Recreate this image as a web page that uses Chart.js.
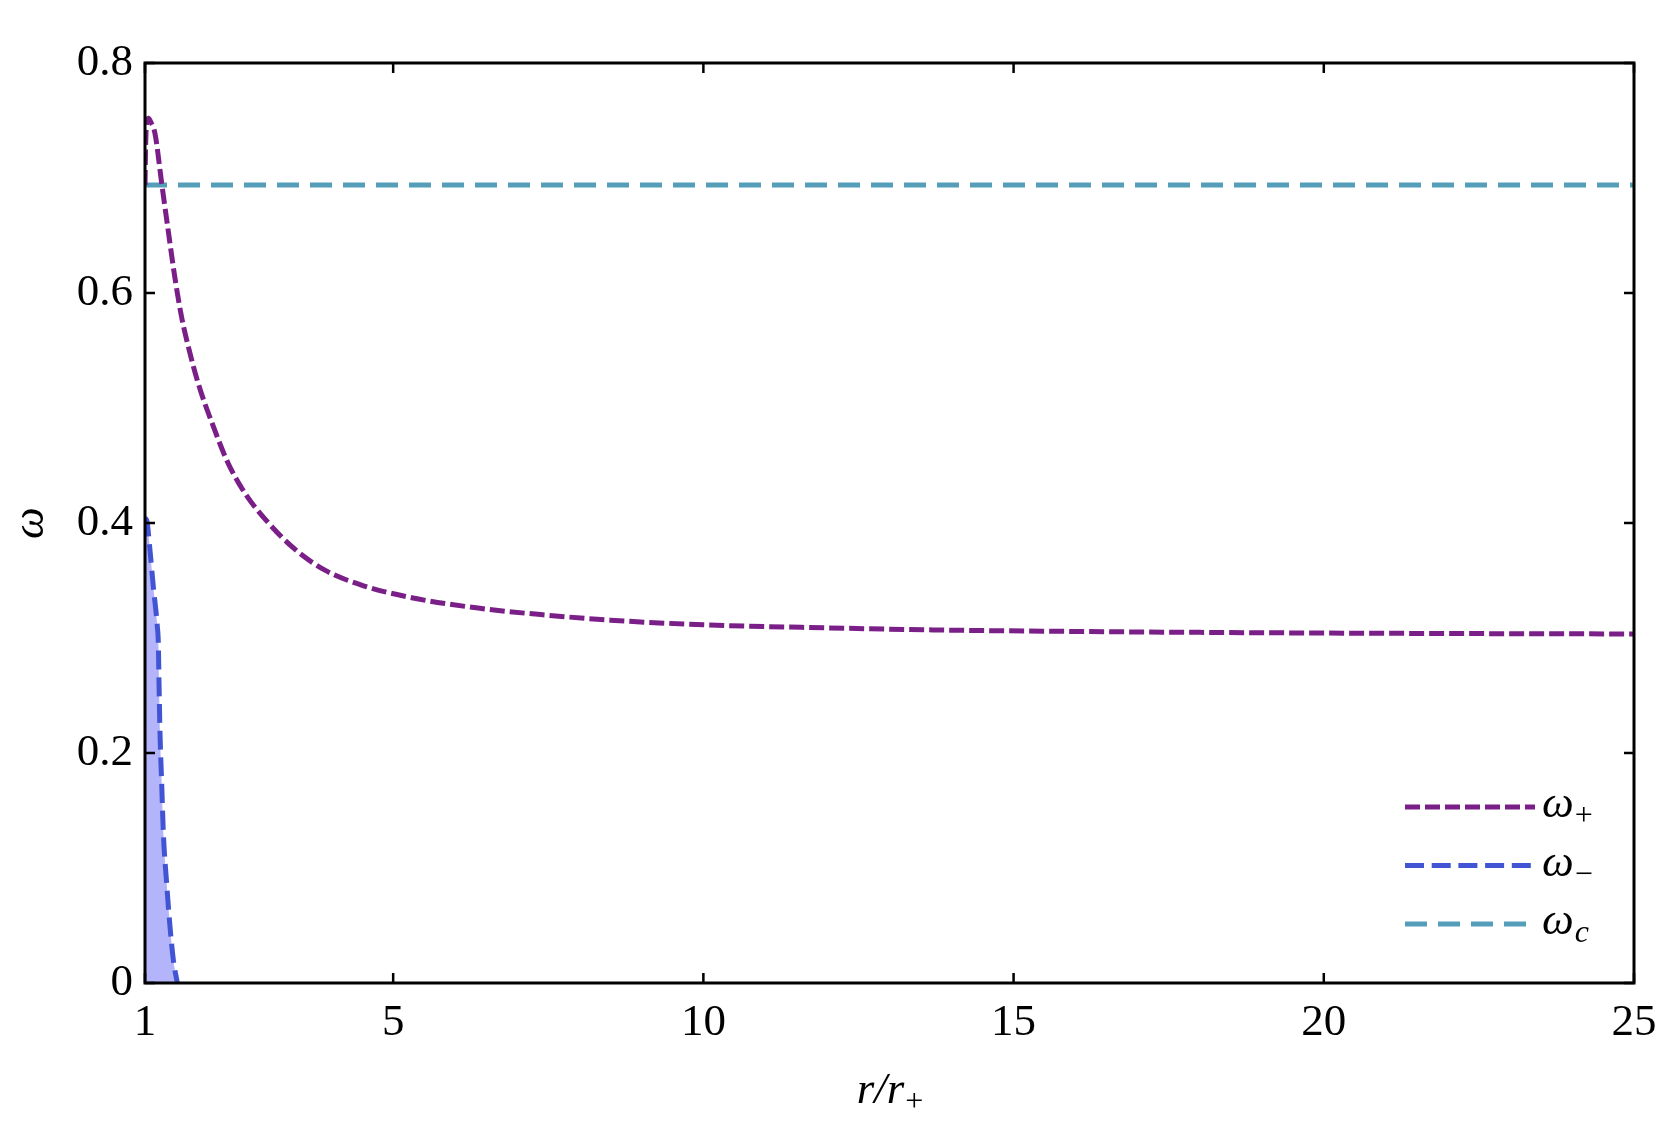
<!DOCTYPE html>
<html><head><meta charset="utf-8">
<script src="https://cdn.jsdelivr.net/npm/chart.js@4/dist/chart.umd.min.js"></script>
<style>html,body{margin:0;padding:0;background:#fff}#wrap{width:1661px;height:1127px;position:relative}</style>
</head><body><div id="wrap"><canvas id="c" width="1661" height="1127"></canvas></div>
<script>
// omega_+ curve
const rPlus = [1, 1.01, 1.03, 1.055, 1.09, 1.16, 1.27, 1.38, 1.48, 1.59, 1.70, 1.86, 2.08, 2.34, 2.61, 2.99, 3.42, 3.90, 4.49, 5.30, 6.37, 7.45, 8.5, 10, 12, 14, 16, 18, 20, 22, 25];
const wPlus = [0.694, 0.728, 0.749, 0.752, 0.749, 0.739, 0.695, 0.652, 0.614, 0.579, 0.553, 0.521, 0.487, 0.452, 0.426, 0.400, 0.377, 0.359, 0.346, 0.335, 0.326, 0.320, 0.3155, 0.3115, 0.3088, 0.3068, 0.3057, 0.3049, 0.3043, 0.3039, 0.3035];
// omega_- curve
const rMinus = [1, 1.027, 1.08, 1.134, 1.199, 1.215, 1.226, 1.242, 1.269, 1.296, 1.349, 1.403, 1.457, 1.521];
const wMinus = [0.404, 0.4026, 0.3765, 0.3446, 0.3098, 0.2954, 0.2606, 0.2171, 0.1736, 0.1302, 0.0867, 0.049, 0.020, 0];
// omega_c
const rC = [1, 25];
const wC = [0.694, 0.694];

const xTicks = [1, 5, 10, 15, 20, 25];
const yTicks = [0, 0.2, 0.4, 0.6, 0.8];
const legendSubs = ['+', '\u2212', 'c'];

const colPlus = 'rgb(122,30,136)';
const colMinus = 'rgb(64,84,212)';
const colC = 'rgb(84,158,186)';
const fillMinus = 'rgb(180,180,250)';
const SERIF = '"Liberation Serif", "Times New Roman", serif';
const FS = 45;

const pts = (xs, ys) => xs.map((x, i) => ({x, y: ys[i]}));

const framePlugin = {
  id: 'frame',
  afterDraw(chart) {
    const {ctx, chartArea: a, scales} = chart;
    ctx.save();
    ctx.strokeStyle = '#000';
    ctx.lineWidth = 3;
    ctx.strokeRect(a.left, a.top, a.right - a.left, a.bottom - a.top);
    const tl = 10;
    ctx.lineWidth = 2.5;
    ctx.beginPath();
    xTicks.forEach(v => {
      const px = scales.x.getPixelForValue(v);
      ctx.moveTo(px, a.bottom); ctx.lineTo(px, a.bottom - tl);
      ctx.moveTo(px, a.top); ctx.lineTo(px, a.top + tl);
    });
    yTicks.forEach(v => {
      const py = scales.y.getPixelForValue(v);
      ctx.moveTo(a.left, py); ctx.lineTo(a.left + tl, py);
      ctx.moveTo(a.right, py); ctx.lineTo(a.right - tl, py);
    });
    ctx.stroke();

    // axis titles
    ctx.fillStyle = '#000';
    ctx.textBaseline = 'alphabetic';
    const cx = (a.left + a.right) / 2;
    const mainF = 'italic 45px ' + SERIF;
    const subF = '32px ' + SERIF;
    ctx.font = mainF; const w1 = ctx.measureText('r/r').width;
    ctx.font = subF; const w2 = ctx.measureText('+').width;
    const x0 = cx - (w1 + w2) / 2;
    const by = a.bottom + 120;
    ctx.font = mainF; ctx.textAlign = 'left'; ctx.fillText('r/r', x0, by);
    ctx.font = subF; ctx.fillText('+', x0 + w1 + 1, by + 8);
    // y title omega
    ctx.save();
    ctx.translate(31, (a.top + a.bottom) / 2);
    ctx.rotate(-Math.PI / 2);
    ctx.font = 'italic 45px ' + SERIF;
    ctx.textAlign = 'center';
    ctx.textBaseline = 'middle';
    ctx.fillText('\u03c9', 0, 0);
    ctx.restore();

    // legend
    const ds = chart.data.datasets;
    const ly0 = a.bottom - 176, dy = 58.5;
    const lx1 = a.right - 229, lx2 = a.right - 99;
    ds.forEach((d, i) => {
      const y = ly0 + i * dy;
      ctx.save();
      ctx.strokeStyle = d.borderColor;
      ctx.lineWidth = d.borderWidth;
      ctx.setLineDash(d.borderDash);
      ctx.beginPath(); ctx.moveTo(lx1, y); ctx.lineTo(lx2, y); ctx.stroke();
      ctx.restore();
      ctx.font = 'italic 45px ' + SERIF;
      ctx.textAlign = 'left';
      ctx.textBaseline = 'alphabetic';
      const tx = lx2 + 7;
      ctx.fillText('\u03c9', tx, y + 10);
      const ww = ctx.measureText('\u03c9').width;
      ctx.font = (legendSubs[i] === 'c' ? 'italic ' : '') + '32px ' + SERIF;
      ctx.fillText(legendSubs[i], tx + ww + 1, y + 18);
    });
    ctx.restore();
  }
};

new Chart(document.getElementById('c'), {
  type: 'line',
  data: {
    datasets: [
      {label: 'ω+', data: pts(rPlus, wPlus), borderColor: colPlus, borderWidth: 5, borderDash: [15, 5], pointRadius: 0, fill: false, cubicInterpolationMode: 'monotone', order: 1},
      {label: 'ω−', data: pts(rMinus, wMinus), borderColor: colMinus, borderWidth: 5, borderDash: [19, 7.7], pointRadius: 0, fill: 'origin', backgroundColor: fillMinus, cubicInterpolationMode: 'monotone', order: 2},
      {label: 'ωc', data: pts(rC, wC), borderColor: colC, borderWidth: 5, borderDash: [22, 11], pointRadius: 0, fill: false, order: 3}
    ]
  },
  options: {
    responsive: false,
    animation: false,
    devicePixelRatio: 1,
    layout: {padding: {left: 0, right: 27, top: 63, bottom: 0}},
    plugins: {legend: {display: false}, tooltip: {enabled: false}},
    scales: {
      x: {
        type: 'linear', min: 1, max: 25,
        afterBuildTicks: s => { s.ticks = xTicks.map(v => ({value: v})); },
        afterFit: s => { s.height = 144; s.paddingLeft = 0; s.paddingRight = 0; },
        grid: {display: false, drawTicks: false},
        border: {display: false},
        ticks: {color: '#000', font: {family: SERIF, size: FS}, padding: 13, maxRotation: 0, autoSkip: false, callback: v => String(v)}
      },
      y: {
        type: 'linear', min: 0, max: 0.8,
        afterBuildTicks: s => { s.ticks = yTicks.map(v => ({value: v})); },
        afterFit: s => { s.width = 145; s.paddingTop = 0; s.paddingBottom = 0; },
        grid: {display: false, drawTicks: false},
        border: {display: false},
        ticks: {color: '#000', font: {family: SERIF, size: FS}, padding: 12, autoSkip: false, callback: v => v === 0 ? '0' : Number(v).toFixed(1)}
      }
    }
  },
  plugins: [framePlugin]
});
</script>
</body></html>
